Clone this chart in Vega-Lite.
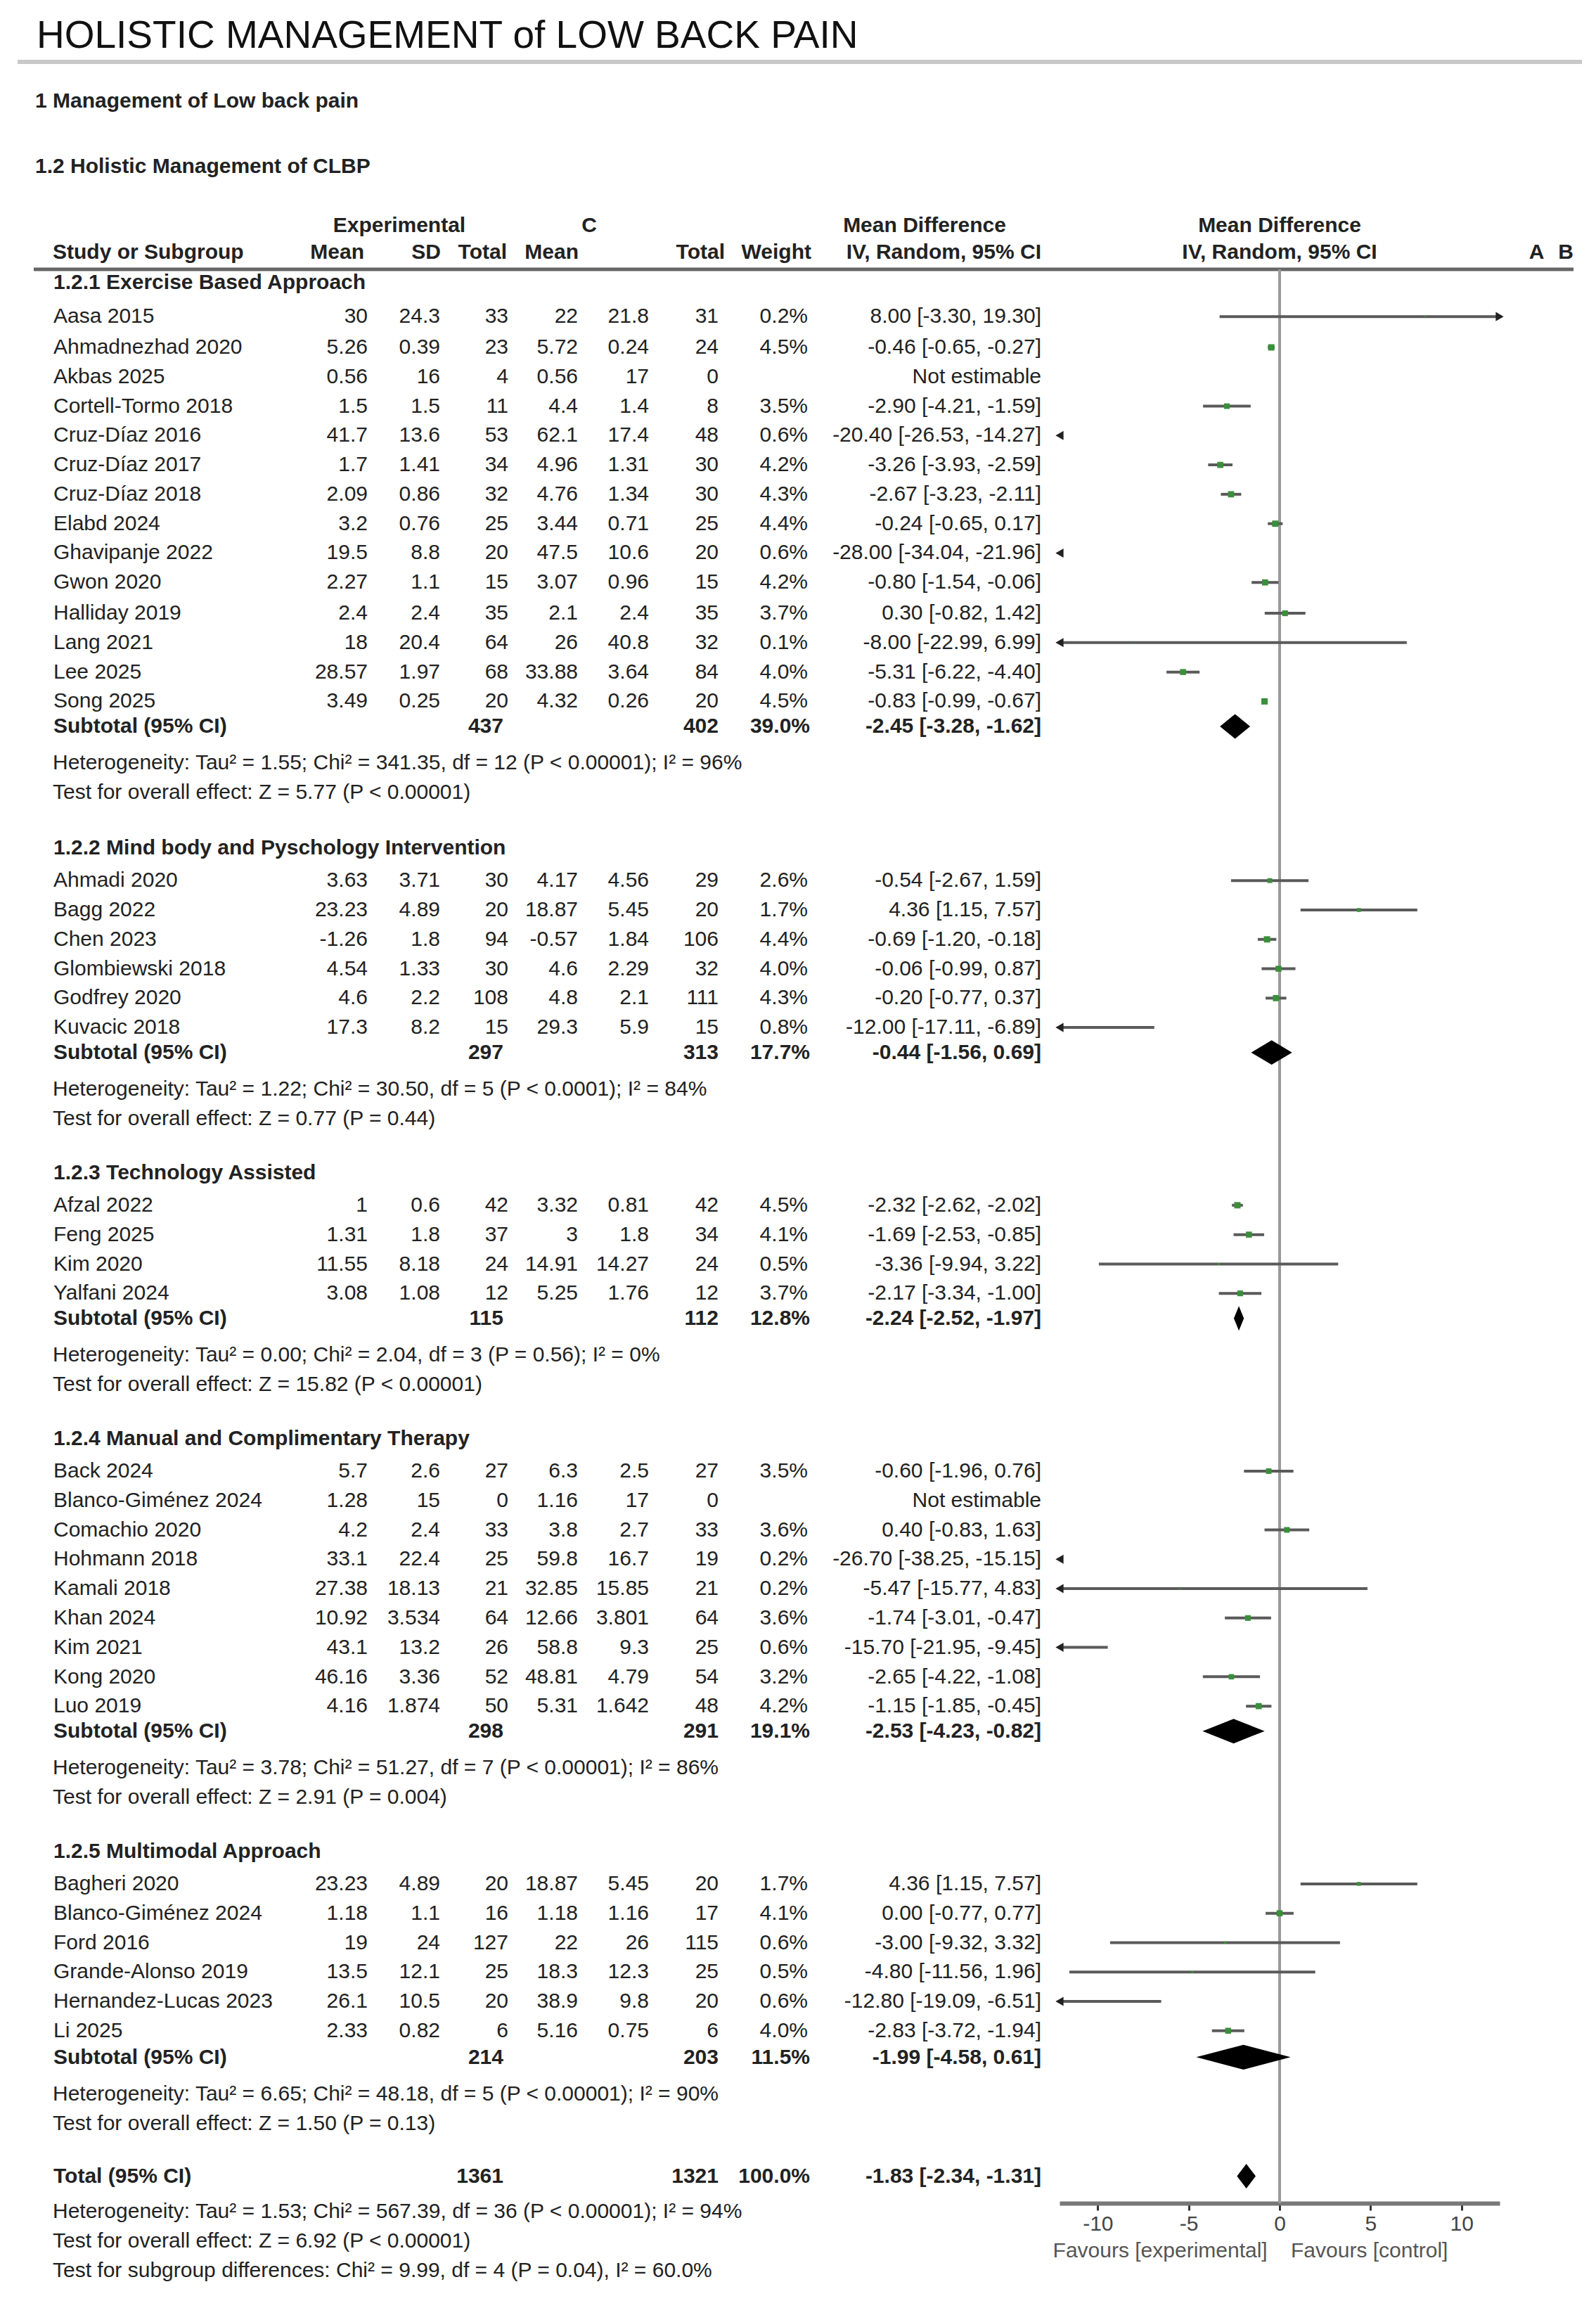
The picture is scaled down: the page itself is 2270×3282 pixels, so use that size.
{
"$schema":"https://vega.github.io/schema/vega-lite/v6.json",
"background":"white",
"padding":{"top":24,"left":0,"right":0,"bottom":0},
"title":{"text":"HOLISTIC MANAGEMENT of LOW BACK PAIN","anchor":"start","dx":52,"offset":0,"font":"Liberation Sans","fontSize":55,"fontWeight":"normal","color":"#111"},
"bounds":"flush",
"spacing":0,
"config":{
 "view":{"stroke":null},
 "text":{"font":"Liberation Sans","fontSize":30,"baseline":"middle","color":"#222"},
 "axis":{"domainColor":"#777","domainWidth":6,"tickColor":"#333","tickWidth":3,"tickSize":10,"labelFont":"Liberation Sans","labelFontSize":30,"labelColor":"#444","labelPadding":4,"titleFont":"Liberation Sans","titleFontSize":30,"titleFontWeight":"normal","titleColor":"#555","titlePadding":8}
},
"datasets":{
"rows":[
{"row":0,"kind":"group","label":"1.2.1 Exercise Based Approach"},
{"row":1.15,"kind":"study","label":"Aasa 2015","em":30,"esd":24.3,"en":33,"cm":22,"csd":21.8,"cn":31,"w":0.002,"md":8.0,"lo":-3.3,"hi":19.3,"ci":"8.00 [-3.30, 19.30]"},
{"row":2.2,"kind":"study","label":"Ahmadnezhad 2020","em":5.26,"esd":0.39,"en":23,"cm":5.72,"csd":0.24,"cn":24,"w":0.045,"md":-0.46,"lo":-0.65,"hi":-0.27,"ci":"-0.46 [-0.65, -0.27]"},
{"row":3.2,"kind":"study","label":"Akbas 2025","em":0.56,"esd":16,"en":4,"cm":0.56,"csd":17,"cn":0,"ci":"Not estimable"},
{"row":4.2,"kind":"study","label":"Cortell-Tormo 2018","em":1.5,"esd":1.5,"en":11,"cm":4.4,"csd":1.4,"cn":8,"w":0.035,"md":-2.9,"lo":-4.21,"hi":-1.59,"ci":"-2.90 [-4.21, -1.59]"},
{"row":5.2,"kind":"study","label":"Cruz-Díaz 2016","em":41.7,"esd":13.6,"en":53,"cm":62.1,"csd":17.4,"cn":48,"w":0.006,"md":-20.4,"lo":-26.53,"hi":-14.27,"ci":"-20.40 [-26.53, -14.27]"},
{"row":6.2,"kind":"study","label":"Cruz-Díaz 2017","em":1.7,"esd":1.41,"en":34,"cm":4.96,"csd":1.31,"cn":30,"w":0.042,"md":-3.26,"lo":-3.93,"hi":-2.59,"ci":"-3.26 [-3.93, -2.59]"},
{"row":7.2,"kind":"study","label":"Cruz-Díaz 2018","em":2.09,"esd":0.86,"en":32,"cm":4.76,"csd":1.34,"cn":30,"w":0.043,"md":-2.67,"lo":-3.23,"hi":-2.11,"ci":"-2.67 [-3.23, -2.11]"},
{"row":8.2,"kind":"study","label":"Elabd 2024","em":3.2,"esd":0.76,"en":25,"cm":3.44,"csd":0.71,"cn":25,"w":0.044,"md":-0.24,"lo":-0.65,"hi":0.17,"ci":"-0.24 [-0.65, 0.17]"},
{"row":9.2,"kind":"study","label":"Ghavipanje 2022","em":19.5,"esd":8.8,"en":20,"cm":47.5,"csd":10.6,"cn":20,"w":0.006,"md":-28.0,"lo":-34.04,"hi":-21.96,"ci":"-28.00 [-34.04, -21.96]"},
{"row":10.2,"kind":"study","label":"Gwon 2020","em":2.27,"esd":1.1,"en":15,"cm":3.07,"csd":0.96,"cn":15,"w":0.042,"md":-0.8,"lo":-1.54,"hi":-0.06,"ci":"-0.80 [-1.54, -0.06]"},
{"row":11.25,"kind":"study","label":"Halliday 2019","em":2.4,"esd":2.4,"en":35,"cm":2.1,"csd":2.4,"cn":35,"w":0.037,"md":0.3,"lo":-0.82,"hi":1.42,"ci":"0.30 [-0.82, 1.42]"},
{"row":12.25,"kind":"study","label":"Lang 2021","em":18,"esd":20.4,"en":64,"cm":26,"csd":40.8,"cn":32,"w":0.001,"md":-8.0,"lo":-22.99,"hi":6.99,"ci":"-8.00 [-22.99, 6.99]"},
{"row":13.25,"kind":"study","label":"Lee 2025","em":28.57,"esd":1.97,"en":68,"cm":33.88,"csd":3.64,"cn":84,"w":0.04,"md":-5.31,"lo":-6.22,"hi":-4.4,"ci":"-5.31 [-6.22, -4.40]"},
{"row":14.25,"kind":"study","label":"Song 2025","em":3.49,"esd":0.25,"en":20,"cm":4.32,"csd":0.26,"cn":20,"w":0.045,"md":-0.83,"lo":-0.99,"hi":-0.67,"ci":"-0.83 [-0.99, -0.67]"},
{"row":15.1,"kind":"subtotal","label":"Subtotal (95% CI)","en":437,"cn":402,"w":0.39,"md":-2.45,"lo":-3.28,"hi":-1.62,"ci":"-2.45 [-3.28, -1.62]"},
{"row":19.25,"kind":"group","label":"1.2.2 Mind body and Pyschology Intervention"},
{"row":20.35,"kind":"study","label":"Ahmadi 2020","em":3.63,"esd":3.71,"en":30,"cm":4.17,"csd":4.56,"cn":29,"w":0.026,"md":-0.54,"lo":-2.67,"hi":1.59,"ci":"-0.54 [-2.67, 1.59]"},
{"row":21.35,"kind":"study","label":"Bagg 2022","em":23.23,"esd":4.89,"en":20,"cm":18.87,"csd":5.45,"cn":20,"w":0.017,"md":4.36,"lo":1.15,"hi":7.57,"ci":"4.36 [1.15, 7.57]"},
{"row":22.35,"kind":"study","label":"Chen 2023","em":-1.26,"esd":1.8,"en":94,"cm":-0.57,"csd":1.84,"cn":106,"w":0.044,"md":-0.69,"lo":-1.2,"hi":-0.18,"ci":"-0.69 [-1.20, -0.18]"},
{"row":23.35,"kind":"study","label":"Glombiewski 2018","em":4.54,"esd":1.33,"en":30,"cm":4.6,"csd":2.29,"cn":32,"w":0.04,"md":-0.06,"lo":-0.99,"hi":0.87,"ci":"-0.06 [-0.99, 0.87]"},
{"row":24.35,"kind":"study","label":"Godfrey 2020","em":4.6,"esd":2.2,"en":108,"cm":4.8,"csd":2.1,"cn":111,"w":0.043,"md":-0.2,"lo":-0.77,"hi":0.37,"ci":"-0.20 [-0.77, 0.37]"},
{"row":25.35,"kind":"study","label":"Kuvacic 2018","em":17.3,"esd":8.2,"en":15,"cm":29.3,"csd":5.9,"cn":15,"w":0.008,"md":-12.0,"lo":-17.11,"hi":-6.89,"ci":"-12.00 [-17.11, -6.89]"},
{"row":26.2,"kind":"subtotal","label":"Subtotal (95% CI)","en":297,"cn":313,"w":0.177,"md":-0.44,"lo":-1.56,"hi":0.69,"ci":"-0.44 [-1.56, 0.69]"},
{"row":30.3,"kind":"group","label":"1.2.3 Technology Assisted"},
{"row":31.4,"kind":"study","label":"Afzal 2022","em":1,"esd":0.6,"en":42,"cm":3.32,"csd":0.81,"cn":42,"w":0.045,"md":-2.32,"lo":-2.62,"hi":-2.02,"ci":"-2.32 [-2.62, -2.02]"},
{"row":32.4,"kind":"study","label":"Feng 2025","em":1.31,"esd":1.8,"en":37,"cm":3,"csd":1.8,"cn":34,"w":0.041,"md":-1.69,"lo":-2.53,"hi":-0.85,"ci":"-1.69 [-2.53, -0.85]"},
{"row":33.4,"kind":"study","label":"Kim 2020","em":11.55,"esd":8.18,"en":24,"cm":14.91,"csd":14.27,"cn":24,"w":0.005,"md":-3.36,"lo":-9.94,"hi":3.22,"ci":"-3.36 [-9.94, 3.22]"},
{"row":34.4,"kind":"study","label":"Yalfani 2024","em":3.08,"esd":1.08,"en":12,"cm":5.25,"csd":1.76,"cn":12,"w":0.037,"md":-2.17,"lo":-3.34,"hi":-1.0,"ci":"-2.17 [-3.34, -1.00]"},
{"row":35.25,"kind":"subtotal","label":"Subtotal (95% CI)","en":115,"cn":112,"w":0.128,"md":-2.24,"lo":-2.52,"hi":-1.97,"ci":"-2.24 [-2.52, -1.97]"},
{"row":39.35,"kind":"group","label":"1.2.4 Manual and Complimentary Therapy"},
{"row":40.45,"kind":"study","label":"Back 2024","em":5.7,"esd":2.6,"en":27,"cm":6.3,"csd":2.5,"cn":27,"w":0.035,"md":-0.6,"lo":-1.96,"hi":0.76,"ci":"-0.60 [-1.96, 0.76]"},
{"row":41.45,"kind":"study","label":"Blanco-Giménez 2024","em":1.28,"esd":15,"en":0,"cm":1.16,"csd":17,"cn":0,"ci":"Not estimable"},
{"row":42.45,"kind":"study","label":"Comachio 2020","em":4.2,"esd":2.4,"en":33,"cm":3.8,"csd":2.7,"cn":33,"w":0.036,"md":0.4,"lo":-0.83,"hi":1.63,"ci":"0.40 [-0.83, 1.63]"},
{"row":43.45,"kind":"study","label":"Hohmann 2018","em":33.1,"esd":22.4,"en":25,"cm":59.8,"csd":16.7,"cn":19,"w":0.002,"md":-26.7,"lo":-38.25,"hi":-15.15,"ci":"-26.70 [-38.25, -15.15]"},
{"row":44.45,"kind":"study","label":"Kamali 2018","em":27.38,"esd":18.13,"en":21,"cm":32.85,"csd":15.85,"cn":21,"w":0.002,"md":-5.47,"lo":-15.77,"hi":4.83,"ci":"-5.47 [-15.77, 4.83]"},
{"row":45.45,"kind":"study","label":"Khan 2024","em":10.92,"esd":3.534,"en":64,"cm":12.66,"csd":3.801,"cn":64,"w":0.036,"md":-1.74,"lo":-3.01,"hi":-0.47,"ci":"-1.74 [-3.01, -0.47]"},
{"row":46.45,"kind":"study","label":"Kim 2021","em":43.1,"esd":13.2,"en":26,"cm":58.8,"csd":9.3,"cn":25,"w":0.006,"md":-15.7,"lo":-21.95,"hi":-9.45,"ci":"-15.70 [-21.95, -9.45]"},
{"row":47.45,"kind":"study","label":"Kong 2020","em":46.16,"esd":3.36,"en":52,"cm":48.81,"csd":4.79,"cn":54,"w":0.032,"md":-2.65,"lo":-4.22,"hi":-1.08,"ci":"-2.65 [-4.22, -1.08]"},
{"row":48.45,"kind":"study","label":"Luo 2019","em":4.16,"esd":1.874,"en":50,"cm":5.31,"csd":1.642,"cn":48,"w":0.042,"md":-1.15,"lo":-1.85,"hi":-0.45,"ci":"-1.15 [-1.85, -0.45]"},
{"row":49.3,"kind":"subtotal","label":"Subtotal (95% CI)","en":298,"cn":291,"w":0.191,"md":-2.53,"lo":-4.23,"hi":-0.82,"ci":"-2.53 [-4.23, -0.82]"},
{"row":53.4,"kind":"group","label":"1.2.5 Multimodal Approach"},
{"row":54.5,"kind":"study","label":"Bagheri 2020","em":23.23,"esd":4.89,"en":20,"cm":18.87,"csd":5.45,"cn":20,"w":0.017,"md":4.36,"lo":1.15,"hi":7.57,"ci":"4.36 [1.15, 7.57]"},
{"row":55.5,"kind":"study","label":"Blanco-Giménez 2024","em":1.18,"esd":1.1,"en":16,"cm":1.18,"csd":1.16,"cn":17,"w":0.041,"md":0.0,"lo":-0.77,"hi":0.77,"ci":"0.00 [-0.77, 0.77]"},
{"row":56.5,"kind":"study","label":"Ford 2016","em":19,"esd":24,"en":127,"cm":22,"csd":26,"cn":115,"w":0.006,"md":-3.0,"lo":-9.32,"hi":3.32,"ci":"-3.00 [-9.32, 3.32]"},
{"row":57.5,"kind":"study","label":"Grande-Alonso 2019","em":13.5,"esd":12.1,"en":25,"cm":18.3,"csd":12.3,"cn":25,"w":0.005,"md":-4.8,"lo":-11.56,"hi":1.96,"ci":"-4.80 [-11.56, 1.96]"},
{"row":58.5,"kind":"study","label":"Hernandez-Lucas 2023","em":26.1,"esd":10.5,"en":20,"cm":38.9,"csd":9.8,"cn":20,"w":0.006,"md":-12.8,"lo":-19.09,"hi":-6.51,"ci":"-12.80 [-19.09, -6.51]"},
{"row":59.5,"kind":"study","label":"Li 2025","em":2.33,"esd":0.82,"en":6,"cm":5.16,"csd":0.75,"cn":6,"w":0.04,"md":-2.83,"lo":-3.72,"hi":-1.94,"ci":"-2.83 [-3.72, -1.94]"},
{"row":60.4,"kind":"subtotal","label":"Subtotal (95% CI)","en":214,"cn":203,"w":0.115,"md":-1.99,"lo":-4.58,"hi":0.61,"ci":"-1.99 [-4.58, 0.61]"},
{"row":64.45,"kind":"total","label":"Total (95% CI)","en":1361,"cn":1321,"w":1.0,"md":-1.83,"lo":-2.34,"hi":-1.31,"ci":"-1.83 [-2.34, -1.31]"}
],
"notes":[
{"row":16.35,"text":"Heterogeneity: Tau² = 1.55; Chi² = 341.35, df = 12 (P < 0.00001); I² = 96%"},
{"row":17.35,"text":"Test for overall effect: Z = 5.77 (P < 0.00001)"},
{"row":27.45,"text":"Heterogeneity: Tau² = 1.22; Chi² = 30.50, df = 5 (P < 0.0001); I² = 84%"},
{"row":28.45,"text":"Test for overall effect: Z = 0.77 (P = 0.44)"},
{"row":36.5,"text":"Heterogeneity: Tau² = 0.00; Chi² = 2.04, df = 3 (P = 0.56); I² = 0%"},
{"row":37.5,"text":"Test for overall effect: Z = 15.82 (P < 0.00001)"},
{"row":50.55,"text":"Heterogeneity: Tau² = 3.78; Chi² = 51.27, df = 7 (P < 0.00001); I² = 86%"},
{"row":51.55,"text":"Test for overall effect: Z = 2.91 (P = 0.004)"},
{"row":61.65,"text":"Heterogeneity: Tau² = 6.65; Chi² = 48.18, df = 5 (P < 0.00001); I² = 90%"},
{"row":62.65,"text":"Test for overall effect: Z = 1.50 (P = 0.13)"},
{"row":65.65,"text":"Heterogeneity: Tau² = 1.53; Chi² = 567.39, df = 36 (P < 0.00001); I² = 94%"},
{"row":66.65,"text":"Test for overall effect: Z = 6.92 (P < 0.00001)"},
{"row":67.65,"text":"Test for subgroup differences: Chi² = 9.99, df = 4 (P = 0.04), I² = 60.0%"}
]
},
"hconcat":[
{
"width":1507,"height":3202,
"data":{"name":"rows"},
"layer":[
{"data":{"values":[{}]},"mark":{"type":"rule","color":"#c8c8c8","strokeWidth":6},"encoding":{"x":{"datum":25,"type":"quantitative","scale":{"domain":[0,1507],"nice":false,"zero":false},"axis":null},"x2":{"datum":1507},"y":{"datum":-7.52,"type":"quantitative","scale":{"domain":[-7.71,68.93],"reverse":true,"nice":false,"zero":false},"axis":null}}},
{"data":{"values":[{}]},"mark":{"type":"rule","color":"#666","strokeWidth":5},"encoding":{"x":{"datum":48,"type":"quantitative","scale":{"domain":[0,1507],"nice":false,"zero":false},"axis":null},"x2":{"datum":1507},"y":{"datum":-0.455,"type":"quantitative","scale":{"domain":[-7.71,68.93],"reverse":true,"nice":false,"zero":false},"axis":null}}},
{"data":{"values":[{}]},"mark":{"type":"text","align":"left","fontWeight":"bold"},"encoding":{"x":{"datum":50,"type":"quantitative","scale":{"domain":[0,1507],"nice":false,"zero":false},"axis":null},"y":{"datum":-6.18,"type":"quantitative","scale":{"domain":[-7.71,68.93],"reverse":true,"nice":false,"zero":false},"axis":null},"text":{"value":"1 Management of Low back pain"}}},
{"data":{"values":[{}]},"mark":{"type":"text","align":"left","fontWeight":"bold"},"encoding":{"x":{"datum":50,"type":"quantitative","scale":{"domain":[0,1507],"nice":false,"zero":false},"axis":null},"y":{"datum":-3.95,"type":"quantitative","scale":{"domain":[-7.71,68.93],"reverse":true,"nice":false,"zero":false},"axis":null},"text":{"value":"1.2 Holistic Management of CLBP"}}},
{"data":{"values":[{}]},"mark":{"type":"text","align":"center","fontWeight":"bold"},"encoding":{"x":{"datum":568,"type":"quantitative","scale":{"domain":[0,1507],"nice":false,"zero":false},"axis":null},"y":{"datum":-1.94,"type":"quantitative","scale":{"domain":[-7.71,68.93],"reverse":true,"nice":false,"zero":false},"axis":null},"text":{"value":"Experimental"}}},
{"data":{"values":[{}]},"mark":{"type":"text","align":"center","fontWeight":"bold"},"encoding":{"x":{"datum":838,"type":"quantitative","scale":{"domain":[0,1507],"nice":false,"zero":false},"axis":null},"y":{"datum":-1.94,"type":"quantitative","scale":{"domain":[-7.71,68.93],"reverse":true,"nice":false,"zero":false},"axis":null},"text":{"value":"C"}}},
{"data":{"values":[{}]},"mark":{"type":"text","align":"center","fontWeight":"bold"},"encoding":{"x":{"datum":1315,"type":"quantitative","scale":{"domain":[0,1507],"nice":false,"zero":false},"axis":null},"y":{"datum":-1.94,"type":"quantitative","scale":{"domain":[-7.71,68.93],"reverse":true,"nice":false,"zero":false},"axis":null},"text":{"value":"Mean Difference"}}},
{"data":{"values":[{}]},"mark":{"type":"text","align":"left","fontWeight":"bold"},"encoding":{"x":{"datum":75,"type":"quantitative","scale":{"domain":[0,1507],"nice":false,"zero":false},"axis":null},"y":{"datum":-1.03,"type":"quantitative","scale":{"domain":[-7.71,68.93],"reverse":true,"nice":false,"zero":false},"axis":null},"text":{"value":"Study or Subgroup"}}},
{"data":{"values":[{}]},"mark":{"type":"text","align":"right","fontWeight":"bold"},"encoding":{"x":{"datum":518,"type":"quantitative","scale":{"domain":[0,1507],"nice":false,"zero":false},"axis":null},"y":{"datum":-1.03,"type":"quantitative","scale":{"domain":[-7.71,68.93],"reverse":true,"nice":false,"zero":false},"axis":null},"text":{"value":"Mean"}}},
{"data":{"values":[{}]},"mark":{"type":"text","align":"right","fontWeight":"bold"},"encoding":{"x":{"datum":627,"type":"quantitative","scale":{"domain":[0,1507],"nice":false,"zero":false},"axis":null},"y":{"datum":-1.03,"type":"quantitative","scale":{"domain":[-7.71,68.93],"reverse":true,"nice":false,"zero":false},"axis":null},"text":{"value":"SD"}}},
{"data":{"values":[{}]},"mark":{"type":"text","align":"right","fontWeight":"bold"},"encoding":{"x":{"datum":721,"type":"quantitative","scale":{"domain":[0,1507],"nice":false,"zero":false},"axis":null},"y":{"datum":-1.03,"type":"quantitative","scale":{"domain":[-7.71,68.93],"reverse":true,"nice":false,"zero":false},"axis":null},"text":{"value":"Total"}}},
{"data":{"values":[{}]},"mark":{"type":"text","align":"right","fontWeight":"bold"},"encoding":{"x":{"datum":823,"type":"quantitative","scale":{"domain":[0,1507],"nice":false,"zero":false},"axis":null},"y":{"datum":-1.03,"type":"quantitative","scale":{"domain":[-7.71,68.93],"reverse":true,"nice":false,"zero":false},"axis":null},"text":{"value":"Mean"}}},
{"data":{"values":[{}]},"mark":{"type":"text","align":"right","fontWeight":"bold"},"encoding":{"x":{"datum":1031,"type":"quantitative","scale":{"domain":[0,1507],"nice":false,"zero":false},"axis":null},"y":{"datum":-1.03,"type":"quantitative","scale":{"domain":[-7.71,68.93],"reverse":true,"nice":false,"zero":false},"axis":null},"text":{"value":"Total"}}},
{"data":{"values":[{}]},"mark":{"type":"text","align":"right","fontWeight":"bold"},"encoding":{"x":{"datum":1154,"type":"quantitative","scale":{"domain":[0,1507],"nice":false,"zero":false},"axis":null},"y":{"datum":-1.03,"type":"quantitative","scale":{"domain":[-7.71,68.93],"reverse":true,"nice":false,"zero":false},"axis":null},"text":{"value":"Weight"}}},
{"data":{"values":[{}]},"mark":{"type":"text","align":"right","fontWeight":"bold"},"encoding":{"x":{"datum":1481,"type":"quantitative","scale":{"domain":[0,1507],"nice":false,"zero":false},"axis":null},"y":{"datum":-1.03,"type":"quantitative","scale":{"domain":[-7.71,68.93],"reverse":true,"nice":false,"zero":false},"axis":null},"text":{"value":"IV, Random, 95% CI"}}},
{"transform":[{"filter":"datum.kind==='group'"}],"mark":{"type":"text","align":"left","fontWeight":"bold"},"encoding":{"x":{"datum":76,"type":"quantitative","scale":{"domain":[0,1507],"nice":false,"zero":false},"axis":null},"y":{"field":"row","type":"quantitative","scale":{"domain":[-7.71,68.93],"reverse":true,"nice":false,"zero":false},"axis":null},"text":{"field":"label","type":"nominal"}}},
{"transform":[{"filter":"datum.kind==='study'"}],"mark":{"type":"text","align":"left"},"encoding":{"x":{"datum":76,"type":"quantitative","scale":{"domain":[0,1507],"nice":false,"zero":false},"axis":null},"y":{"field":"row","type":"quantitative","scale":{"domain":[-7.71,68.93],"reverse":true,"nice":false,"zero":false},"axis":null},"text":{"field":"label","type":"nominal"}}},
{"transform":[{"filter":"datum.kind==='study'"}],"mark":{"type":"text","align":"right"},"encoding":{"x":{"datum":523,"type":"quantitative","scale":{"domain":[0,1507],"nice":false,"zero":false},"axis":null},"y":{"field":"row","type":"quantitative","scale":{"domain":[-7.71,68.93],"reverse":true,"nice":false,"zero":false},"axis":null},"text":{"field":"em","type":"nominal"}}},
{"transform":[{"filter":"datum.kind==='study'"}],"mark":{"type":"text","align":"right"},"encoding":{"x":{"datum":626,"type":"quantitative","scale":{"domain":[0,1507],"nice":false,"zero":false},"axis":null},"y":{"field":"row","type":"quantitative","scale":{"domain":[-7.71,68.93],"reverse":true,"nice":false,"zero":false},"axis":null},"text":{"field":"esd","type":"nominal"}}},
{"transform":[{"filter":"datum.kind==='study'"}],"mark":{"type":"text","align":"right"},"encoding":{"x":{"datum":723,"type":"quantitative","scale":{"domain":[0,1507],"nice":false,"zero":false},"axis":null},"y":{"field":"row","type":"quantitative","scale":{"domain":[-7.71,68.93],"reverse":true,"nice":false,"zero":false},"axis":null},"text":{"field":"en","type":"nominal"}}},
{"transform":[{"filter":"datum.kind==='study'"}],"mark":{"type":"text","align":"right"},"encoding":{"x":{"datum":822,"type":"quantitative","scale":{"domain":[0,1507],"nice":false,"zero":false},"axis":null},"y":{"field":"row","type":"quantitative","scale":{"domain":[-7.71,68.93],"reverse":true,"nice":false,"zero":false},"axis":null},"text":{"field":"cm","type":"nominal"}}},
{"transform":[{"filter":"datum.kind==='study'"}],"mark":{"type":"text","align":"right"},"encoding":{"x":{"datum":923,"type":"quantitative","scale":{"domain":[0,1507],"nice":false,"zero":false},"axis":null},"y":{"field":"row","type":"quantitative","scale":{"domain":[-7.71,68.93],"reverse":true,"nice":false,"zero":false},"axis":null},"text":{"field":"csd","type":"nominal"}}},
{"transform":[{"filter":"datum.kind==='study'"}],"mark":{"type":"text","align":"right"},"encoding":{"x":{"datum":1022,"type":"quantitative","scale":{"domain":[0,1507],"nice":false,"zero":false},"axis":null},"y":{"field":"row","type":"quantitative","scale":{"domain":[-7.71,68.93],"reverse":true,"nice":false,"zero":false},"axis":null},"text":{"field":"cn","type":"nominal"}}},
{"transform":[{"filter":"datum.kind==='study' && datum.w != null"}],"mark":{"type":"text","align":"right"},"encoding":{"x":{"datum":1149,"type":"quantitative","scale":{"domain":[0,1507],"nice":false,"zero":false},"axis":null},"y":{"field":"row","type":"quantitative","scale":{"domain":[-7.71,68.93],"reverse":true,"nice":false,"zero":false},"axis":null},"text":{"field":"w","type":"quantitative","format":".1%"}}},
{"transform":[{"filter":"datum.kind==='study'"}],"mark":{"type":"text","align":"right"},"encoding":{"x":{"datum":1481,"type":"quantitative","scale":{"domain":[0,1507],"nice":false,"zero":false},"axis":null},"y":{"field":"row","type":"quantitative","scale":{"domain":[-7.71,68.93],"reverse":true,"nice":false,"zero":false},"axis":null},"text":{"field":"ci","type":"nominal"}}},
{"transform":[{"filter":"datum.kind==='subtotal' || datum.kind==='total'"}],"mark":{"type":"text","align":"left","fontWeight":"bold"},"encoding":{"x":{"datum":76,"type":"quantitative","scale":{"domain":[0,1507],"nice":false,"zero":false},"axis":null},"y":{"field":"row","type":"quantitative","scale":{"domain":[-7.71,68.93],"reverse":true,"nice":false,"zero":false},"axis":null},"text":{"field":"label","type":"nominal"}}},
{"transform":[{"filter":"datum.kind==='subtotal' || datum.kind==='total'"}],"mark":{"type":"text","align":"right","fontWeight":"bold"},"encoding":{"x":{"datum":716,"type":"quantitative","scale":{"domain":[0,1507],"nice":false,"zero":false},"axis":null},"y":{"field":"row","type":"quantitative","scale":{"domain":[-7.71,68.93],"reverse":true,"nice":false,"zero":false},"axis":null},"text":{"field":"en","type":"nominal"}}},
{"transform":[{"filter":"datum.kind==='subtotal' || datum.kind==='total'"}],"mark":{"type":"text","align":"right","fontWeight":"bold"},"encoding":{"x":{"datum":1022,"type":"quantitative","scale":{"domain":[0,1507],"nice":false,"zero":false},"axis":null},"y":{"field":"row","type":"quantitative","scale":{"domain":[-7.71,68.93],"reverse":true,"nice":false,"zero":false},"axis":null},"text":{"field":"cn","type":"nominal"}}},
{"transform":[{"filter":"datum.kind==='subtotal' || datum.kind==='total'"}],"mark":{"type":"text","align":"right","fontWeight":"bold"},"encoding":{"x":{"datum":1152,"type":"quantitative","scale":{"domain":[0,1507],"nice":false,"zero":false},"axis":null},"y":{"field":"row","type":"quantitative","scale":{"domain":[-7.71,68.93],"reverse":true,"nice":false,"zero":false},"axis":null},"text":{"field":"w","type":"quantitative","format":".1%"}}},
{"transform":[{"filter":"datum.kind==='subtotal' || datum.kind==='total'"}],"mark":{"type":"text","align":"right","fontWeight":"bold"},"encoding":{"x":{"datum":1481,"type":"quantitative","scale":{"domain":[0,1507],"nice":false,"zero":false},"axis":null},"y":{"field":"row","type":"quantitative","scale":{"domain":[-7.71,68.93],"reverse":true,"nice":false,"zero":false},"axis":null},"text":{"field":"ci","type":"nominal"}}},
{"data":{"name":"notes"},"mark":{"type":"text","align":"left"},"encoding":{"x":{"datum":75,"type":"quantitative","scale":{"domain":[0,1507],"nice":false,"zero":false},"axis":null},"y":{"field":"row","type":"quantitative","scale":{"domain":[-7.71,68.93],"reverse":true,"nice":false,"zero":false},"axis":null},"text":{"field":"text","type":"nominal"}}}
]
},
{
"width":626,"height":3053,
"data":{"name":"rows"},
"layer":[
{"data":{"values":[{}]},"mark":{"type":"rule","color":"#c8c8c8","strokeWidth":6},"encoding":{"y":{"datum":-7.52,"type":"quantitative","scale":{"domain":[-7.71,65.37],"reverse":true,"nice":false,"zero":false},"axis":null}}},
{"data":{"values":[{}]},"mark":{"type":"rule","color":"#666","strokeWidth":5},"encoding":{"y":{"datum":-0.455,"type":"quantitative","scale":{"domain":[-7.71,65.37],"reverse":true,"nice":false,"zero":false},"axis":null}}},
{"data":{"values":[{}]},"mark":{"type":"rule","color":"#9a9a9a","strokeWidth":4},"encoding":{"x":{"datum":0,"type":"quantitative","scale":{"domain":[-12.1,12.1],"clamp":true,"nice":false,"zero":false},"axis":{"values":[-10,-5,0,5,10],"labelExpr":"''+datum.value","title":"Favours [experimental]\u00a0\u00a0\u00a0\u00a0Favours [control]","titleX":271,"titleAlign":"center","grid":false}},"y":{"datum":-0.455,"type":"quantitative","scale":{"domain":[-7.71,65.37],"reverse":true,"nice":false,"zero":false},"axis":null},"y2":{"datum":65.37}}},
{"data":{"values":[{}]},"mark":{"type":"text","align":"center","fontWeight":"bold"},"encoding":{"x":{"datum":0,"type":"quantitative","scale":{"domain":[-12.1,12.1],"clamp":true,"nice":false,"zero":false},"axis":{"values":[-10,-5,0,5,10],"labelExpr":"''+datum.value","title":"Favours [experimental]\u00a0\u00a0\u00a0\u00a0Favours [control]","titleX":271,"titleAlign":"center","grid":false}},"y":{"datum":-1.94,"type":"quantitative","scale":{"domain":[-7.71,65.37],"reverse":true,"nice":false,"zero":false},"axis":null},"text":{"value":"Mean Difference"}}},
{"data":{"values":[{}]},"mark":{"type":"text","align":"center","fontWeight":"bold"},"encoding":{"x":{"datum":0,"type":"quantitative","scale":{"domain":[-12.1,12.1],"clamp":true,"nice":false,"zero":false},"axis":{"values":[-10,-5,0,5,10],"labelExpr":"''+datum.value","title":"Favours [experimental]\u00a0\u00a0\u00a0\u00a0Favours [control]","titleX":271,"titleAlign":"center","grid":false}},"y":{"datum":-1.03,"type":"quantitative","scale":{"domain":[-7.71,65.37],"reverse":true,"nice":false,"zero":false},"axis":null},"text":{"value":"IV, Random, 95% CI"}}},
{"transform":[{"filter":"datum.kind==='study' && datum.lo != null"}],"mark":{"type":"rule","color":"#5a5a5a","strokeWidth":4},"encoding":{"x":{"field":"lo","type":"quantitative","scale":{"domain":[-12.1,12.1],"clamp":true,"nice":false,"zero":false},"axis":{"values":[-10,-5,0,5,10],"labelExpr":"''+datum.value","title":"Favours [experimental]\u00a0\u00a0\u00a0\u00a0Favours [control]","titleX":271,"titleAlign":"center","grid":false}},"x2":{"field":"hi"},"y":{"field":"row","type":"quantitative","scale":{"domain":[-7.71,65.37],"reverse":true,"nice":false,"zero":false},"axis":null}}},
{"transform":[{"filter":"datum.kind==='study' && datum.md != null && datum.md >= -12.1 && datum.md <= 12.1"}],"mark":{"type":"point","shape":"square","filled":true,"color":"#3a8f3a","opacity":1},"encoding":{"x":{"field":"md","type":"quantitative","scale":{"domain":[-12.1,12.1],"clamp":true,"nice":false,"zero":false},"axis":{"values":[-10,-5,0,5,10],"labelExpr":"''+datum.value","title":"Favours [experimental]\u00a0\u00a0\u00a0\u00a0Favours [control]","titleX":271,"titleAlign":"center","grid":false}},"y":{"field":"row","type":"quantitative","scale":{"domain":[-7.71,65.37],"reverse":true,"nice":false,"zero":false},"axis":null},"size":{"field":"w","type":"quantitative","scale":{"domain":[0,0.05],"range":[0,90]},"legend":null}}},
{"transform":[{"filter":"datum.kind==='study' && datum.hi > 12.1"}],"mark":{"type":"point","shape":"triangle-right","filled":true,"color":"#222","size":170,"opacity":1},"encoding":{"x":{"field":"hi","type":"quantitative","scale":{"domain":[-12.1,12.1],"clamp":true,"nice":false,"zero":false},"axis":{"values":[-10,-5,0,5,10],"labelExpr":"''+datum.value","title":"Favours [experimental]\u00a0\u00a0\u00a0\u00a0Favours [control]","titleX":271,"titleAlign":"center","grid":false}},"y":{"field":"row","type":"quantitative","scale":{"domain":[-7.71,65.37],"reverse":true,"nice":false,"zero":false},"axis":null}}},
{"transform":[{"filter":"datum.kind==='study' && datum.lo != null && datum.lo < -12.1"}],"mark":{"type":"point","shape":"triangle-left","filled":true,"color":"#222","size":170,"opacity":1},"encoding":{"x":{"field":"lo","type":"quantitative","scale":{"domain":[-12.1,12.1],"clamp":true,"nice":false,"zero":false},"axis":{"values":[-10,-5,0,5,10],"labelExpr":"''+datum.value","title":"Favours [experimental]\u00a0\u00a0\u00a0\u00a0Favours [control]","titleX":271,"titleAlign":"center","grid":false}},"y":{"field":"row","type":"quantitative","scale":{"domain":[-7.71,65.37],"reverse":true,"nice":false,"zero":false},"axis":null}}},
{"transform":[{"filter":"datum.kind==='subtotal' || datum.kind==='total'"}],"mark":{"type":"point","filled":true,"color":"#000","opacity":1,"strokeWidth":0},"encoding":{"x":{"field":"md","type":"quantitative","scale":{"domain":[-12.1,12.1],"clamp":true,"nice":false,"zero":false},"axis":{"values":[-10,-5,0,5,10],"labelExpr":"''+datum.value","title":"Favours [experimental]\u00a0\u00a0\u00a0\u00a0Favours [control]","titleX":271,"titleAlign":"center","grid":false}},"y":{"field":"row","type":"quantitative","scale":{"domain":[-7.71,65.37],"reverse":true,"nice":false,"zero":false},"axis":null},"shape":{"field":"ci","type":"nominal","scale":{"domain":["-2.45 [-3.28, -1.62]","-0.44 [-1.56, 0.69]","-2.24 [-2.52, -1.97]","-2.53 [-4.23, -0.82]","-1.99 [-4.58, 0.61]","-1.83 [-2.34, -1.31]"],"range":["M-1,0L0,-0.815L1,0L0,0.815Z","M-1,0L0,-0.601L1,0L0,0.601Z","M-0.407,0L0,-1L0.407,0L0,1Z","M-1,0L0,-0.397L1,0L0,0.397Z","M-1,0L0,-0.261L1,0L0,0.261Z","M-0.761,0L0,-1L0.761,0L0,1Z"]},"legend":null},"size":{"field":"ci","type":"nominal","scale":{"type":"ordinal","domain":["-2.45 [-3.28, -1.62]","-0.44 [-1.56, 0.69]","-2.24 [-2.52, -1.97]","-2.53 [-4.23, -0.82]","-1.99 [-4.58, 0.61]","-1.83 [-2.34, -1.31]"],"range":[1844,3387,1225,7781,18023,1225]},"legend":null}}}
]
},
{
"width":137,"height":3053,
"data":{"values":[{}]},
"layer":[
{"mark":{"type":"rule","color":"#c8c8c8","strokeWidth":6},"encoding":{"x":{"datum":0,"type":"quantitative","scale":{"domain":[0,137],"nice":false,"zero":false},"axis":null},"x2":{"datum":117},"y":{"datum":-7.52,"type":"quantitative","scale":{"domain":[-7.71,65.37],"reverse":true,"nice":false,"zero":false},"axis":null}}},
{"mark":{"type":"rule","color":"#666","strokeWidth":5},"encoding":{"x":{"datum":0,"type":"quantitative","scale":{"domain":[0,137],"nice":false,"zero":false},"axis":null},"x2":{"datum":105},"y":{"datum":-0.455,"type":"quantitative","scale":{"domain":[-7.71,65.37],"reverse":true,"nice":false,"zero":false},"axis":null}}},
{"mark":{"type":"text","align":"center","fontWeight":"bold"},"encoding":{"x":{"datum":52.5,"type":"quantitative","scale":{"domain":[0,137],"nice":false,"zero":false},"axis":null},"y":{"datum":-1.03,"type":"quantitative","scale":{"domain":[-7.71,65.37],"reverse":true,"nice":false,"zero":false},"axis":null},"text":{"value":"A"}}},
{"mark":{"type":"text","align":"center","fontWeight":"bold"},"encoding":{"x":{"datum":94,"type":"quantitative","scale":{"domain":[0,137],"nice":false,"zero":false},"axis":null},"y":{"datum":-1.03,"type":"quantitative","scale":{"domain":[-7.71,65.37],"reverse":true,"nice":false,"zero":false},"axis":null},"text":{"value":"B"}}}
]
}
]
}
